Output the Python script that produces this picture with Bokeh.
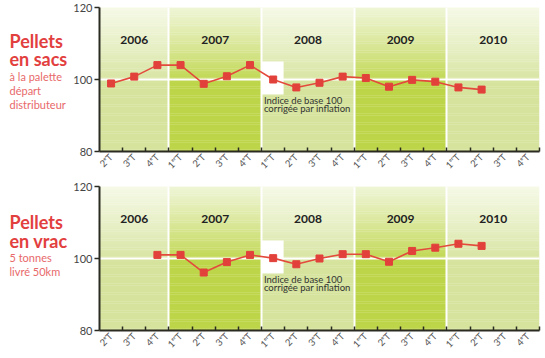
import math
from bokeh.plotting import figure
from bokeh.models import FixedTicker, ColumnDataSource
from bokeh.layouts import column, row
from bokeh.embed import file_html
from bokeh.resources import INLINE
from bokeh.core.properties import value

# ---------------- data ----------------
quarters = ["2ᵉT", "3ᵉT", "4ᵉT",
            "1ᵉʳT", "2ᵉT", "3ᵉT", "4ᵉT",
            "1ᵉʳT", "2ᵉT", "3ᵉT", "4ᵉT",
            "1ᵉʳT", "2ᵉT", "3ᵉT", "4ᵉT",
            "1ᵉʳT", "2ᵉT", "3ᵉT", "4ᵉT"]
years = ["2006", "2007", "2008", "2009", "2010"]
quarters_per_year = [3, 4, 4, 4, 4]
y_ticks = [80, 100, 120]
base_value = 100
base_quarter = 7          # 2008 1er T : base de l'indice

sacs = [98.9, 100.8, 104.0, 104.0, 98.8, 100.9, 104.0, 100.0, 97.8,
        99.1, 100.8, 100.4, 98.0, 99.9, 99.4, 97.8, 97.2]
vrac = [float("nan"), float("nan"), 101.0, 101.0, 96.1, 99.0, 101.0,
        100.1, 98.4, 100.0, 101.2, 101.2, 99.1, 102.1, 103.0, 104.1, 103.5]

title_sacs = ["Pellets", "en sacs"]
sub_sacs = ["à la palette", "départ", "distributeur"]
title_vrac = ["Pellets", "en vrac"]
sub_vrac = ["5 tonnes", "livré 50km"]
note = ["Indice de base 100", "corrigée par inflation"]

# ---------------- style ----------------
FONT = "Lato"
RED = "#e2403e"
RED_LIGHT = "#e8696a"
AXIS = "#2b2b22"
LIGHT_BOTTOM, LIGHT_TOP = (213, 227, 157), (245, 249, 230)
DARK_BOTTOM, DARK_TOP = (189, 213, 72), (239, 245, 214)
LEFT_W = 70
CHART_W = 475
BORDER_LEFT = 26
BORDER_RIGHT = 6
NQ = len(quarters)
Y0, Y1 = 80, 120


def mix(c0, c1, t):
    return "#%02x%02x%02x" % tuple(int(round(a + (b - a) * t)) for a, b in zip(c0, c1))


def make_side(titles, title_y, subs, sub_y, height, b_top, b_bottom):
    s = figure(width=LEFT_W, height=height, x_range=(0, LEFT_W), y_range=(Y0, Y1),
               output_backend="svg", toolbar_location=None,
               min_border_left=0, min_border_right=0,
               min_border_top=b_top, min_border_bottom=b_bottom)
    s.axis.visible = False
    s.grid.visible = False
    s.outline_line_color = None
    s.text(x=[9] * len(titles), y=title_y, text=titles, text_font=value(FONT),
           text_font_style="bold", text_font_size="18px", text_color=RED,
           text_baseline="middle")
    s.text(x=[9] * len(subs), y=sub_y, text=subs, text_font=value(FONT),
           text_font_size="11px", text_color=RED_LIGHT, text_baseline="middle")
    return s


def make_chart(values, height, b_top, b_bottom):
    p = figure(width=CHART_W, height=height, x_range=(0, NQ), y_range=(Y0, Y1),
               output_backend="svg", toolbar_location=None,
               min_border_left=BORDER_LEFT, min_border_right=BORDER_RIGHT,
               min_border_top=b_top, min_border_bottom=b_bottom)
    p.outline_line_color = None
    p.background_fill_color = "white"
    p.border_fill_color = "white"

    # background bands with vertical gradient
    lefts, rights, bottoms, tops, colors = [], [], [], [], []
    start = 0
    step = 0.5
    for i, nq in enumerate(quarters_per_year):
        c_bot, c_top = (LIGHT_BOTTOM, LIGHT_TOP) if i % 2 == 0 else (DARK_BOTTOM, DARK_TOP)
        y = float(Y0)
        while y < Y1:
            mid = y + step / 2
            t = max(0.0, min(1.0, (mid - 99) / 21))
            lefts.append(start); rights.append(start + nq)
            bottoms.append(y); tops.append(y + step + 0.05)
            colors.append(mix(c_bot, c_top, t ** 0.85))
            y += step
        start += nq
    p.quad(left=lefts, right=rights, bottom=bottoms, top=tops,
           fill_color=colors, line_color=None, level="image")

    # grid: white lines at year limits and base 100
    bounds = []
    acc = 0
    for nq in quarters_per_year[:-1]:
        acc += nq
        bounds.append(acc)
    p.xgrid.ticker = FixedTicker(ticks=bounds)
    p.xgrid.grid_line_color = "white"
    p.xgrid.grid_line_width = 2
    p.ygrid.ticker = FixedTicker(ticks=[base_value])
    p.ygrid.grid_line_color = "white"
    p.ygrid.grid_line_width = 2

    # axes
    centers = [i + 0.5 for i in range(NQ)]
    p.xaxis.ticker = FixedTicker(ticks=centers, minor_ticks=list(range(1, NQ + 1)))
    p.xaxis.major_label_overrides = {c: q for c, q in zip(centers, quarters)}
    p.xaxis.major_label_orientation = math.pi / 4
    p.xaxis.major_label_text_font = FONT
    p.xaxis.major_label_text_font_size = "9.5px"
    p.xaxis.major_label_text_color = "#555555"
    p.xaxis.major_label_standoff = 4
    p.xaxis.major_tick_in = 0
    p.xaxis.major_tick_out = 0
    p.xaxis.minor_tick_in = 4
    p.xaxis.minor_tick_out = 0
    p.xaxis.minor_tick_line_color = AXIS
    p.xaxis.minor_tick_line_width = 1.5
    p.xaxis.axis_line_color = AXIS
    p.xaxis.axis_line_width = 2

    p.yaxis.ticker = FixedTicker(ticks=y_ticks)
    p.yaxis.major_label_text_font = FONT
    p.yaxis.major_label_text_font_size = "11px"
    p.yaxis.major_label_text_color = "#444444"
    p.yaxis.major_label_standoff = 2
    p.yaxis.major_tick_in = 0
    p.yaxis.major_tick_out = 5
    p.yaxis.major_tick_line_color = AXIS
    p.yaxis.major_tick_line_width = 1.5
    p.yaxis.minor_tick_line_color = None
    p.yaxis.axis_line_color = AXIS
    p.yaxis.axis_line_width = 2

    # year labels
    yc = []
    acc = 0
    for nq in quarters_per_year:
        yc.append(acc + nq / 2)
        acc += nq
    p.text(x=yc, y=[111] * len(years), text=years, text_font=value(FONT),
           text_font_style="bold", text_font_size="12px", text_color="#222222",
           text_align="center", text_baseline="middle")

    # note box + text
    p.quad(left=[base_quarter], right=[base_quarter + 0.95],
           bottom=[base_value - 4.2], top=[base_value + 5],
           fill_color="white", line_color=None)
    p.text(x=[base_quarter + 0.1] * 2, y=[base_value - 5.7, base_value - 8.1],
           text=note, text_font=value(FONT), text_font_size="9.5px",
           text_color="#333333", text_align="left", text_baseline="middle")

    # series
    src = ColumnDataSource(dict(x=centers[:len(values)], y=values))
    p.line("x", "y", source=src, line_color="#e34a3c", line_width=1.6)
    p.scatter("x", "y", source=src, marker="square", size=7,
              fill_color="#e2403a", line_color="#e2403a")
    return p


top = row(make_side(title_sacs, [110.6, 105.6], sub_sacs, [100.8, 96.9, 93.1],
                    height=180, b_top=7, b_bottom=29),
          make_chart(sacs, height=180, b_top=7, b_bottom=29), spacing=0)
bottom = row(make_side(title_vrac, [110.1, 105.0], sub_vrac, [100.4, 96.5],
                       height=178, b_top=6, b_bottom=28),
             make_chart(vrac, height=178, b_top=6, b_bottom=28), spacing=0)

layout = column(top, bottom, spacing=0)
open("out.html", "w").write(file_html(layout, INLINE))
